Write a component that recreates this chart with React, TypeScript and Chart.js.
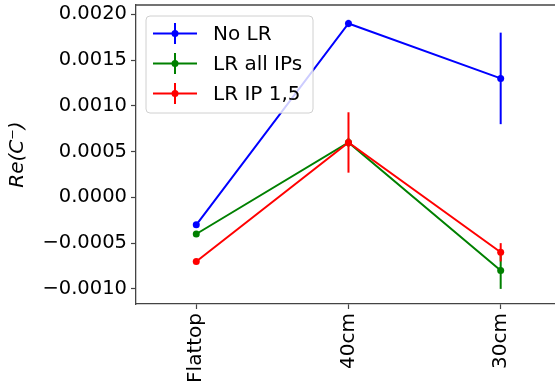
import React, { useEffect, useRef } from "react";
import { Chart, registerables } from "chart.js";

Chart.register(...registerables);

const categories = ["Flattop", "40cm", "30cm"];
const seriesNames = ["No LR", "LR all IPs", "LR IP 1,5"];
const seriesColors = ["#0000ff", "#008000", "#ff0000"];
const noLR = [-0.0003, 0.0019, 0.0013];
const noLRErr = [0.00001, 0.00004, 0.0005];
const lrAll = [-0.0004, 0.0006, -0.0008];
const lrAllErr = [0.00001, 0.00005, 0.0002];
const lrIP15 = [-0.0007, 0.0006, -0.0006];
const lrIP15Err = [0.00001, 0.00033, 0.0001];
const yTicks = [-0.001, -0.0005, 0, 0.0005, 0.001, 0.0015, 0.002];

const FONT = "DejaVu Sans";
const CW = 561;
const CH = 387;

export default function App() {
  const ref = useRef<HTMLCanvasElement | null>(null);

  useEffect(() => {
    const canvas = ref.current;
    if (!canvas) return;
    const values = [noLR, lrAll, lrIP15];
    const errs = [noLRErr, lrAllErr, lrIP15Err];

    const errorBars = {
      id: "errorBars",
      afterDatasetDraw(chart: any, args: any) {
        const i = args.index;
        const ctx = chart.ctx;
        const xs = chart.scales.x;
        const ys = chart.scales.y;
        ctx.save();
        ctx.strokeStyle = seriesColors[i];
        ctx.lineWidth = 2;
        values[i].forEach((v: number, k: number) => {
          const x = xs.getPixelForValue(k);
          ctx.beginPath();
          ctx.moveTo(x, ys.getPixelForValue(v - errs[i][k]));
          ctx.lineTo(x, ys.getPixelForValue(v + errs[i][k]));
          ctx.stroke();
        });
        ctx.restore();
      },
    };

    const frame = {
      id: "frame",
      afterDraw(chart: any) {
        const ctx = chart.ctx;
        const a = chart.chartArea;
        ctx.save();
        ctx.strokeStyle = "#444";
        ctx.lineWidth = 1.3;
        ctx.beginPath();
        ctx.moveTo(a.left, a.top);
        ctx.lineTo(a.right, a.top);
        ctx.stroke();

        // legend
        const lx = 146, ly = 16, lw = 167, lh = 97, r = 4;
        ctx.beginPath();
        ctx.moveTo(lx + r, ly);
        ctx.arcTo(lx + lw, ly, lx + lw, ly + lh, r);
        ctx.arcTo(lx + lw, ly + lh, lx, ly + lh, r);
        ctx.arcTo(lx, ly + lh, lx, ly, r);
        ctx.arcTo(lx, ly, lx + lw, ly, r);
        ctx.closePath();
        ctx.fillStyle = "rgba(255,255,255,0.8)";
        ctx.fill();
        ctx.strokeStyle = "#d0d0d0";
        ctx.lineWidth = 1;
        ctx.stroke();
        seriesNames.forEach((name, i) => {
          const y = 33.5 + i * 30;
          ctx.strokeStyle = seriesColors[i];
          ctx.fillStyle = seriesColors[i];
          ctx.lineWidth = 2;
          ctx.beginPath();
          ctx.moveTo(153, y);
          ctx.lineTo(197, y);
          ctx.moveTo(175, y - 10.5);
          ctx.lineTo(175, y + 10.5);
          ctx.stroke();
          ctx.beginPath();
          ctx.arc(175, y, 3.5, 0, Math.PI * 2);
          ctx.fill();
          ctx.fillStyle = "#000";
          ctx.font = `20px "${FONT}"`;
          ctx.textBaseline = "middle";
          ctx.textAlign = "left";
          ctx.fillText(name, 213, y + 1);
        });
        ctx.restore();
      },
    };

    const datasets = values.map((vals, i) => ({
      label: seriesNames[i],
      data: vals.map((v, k) => ({ x: k, y: v })),
      borderColor: seriesColors[i],
      backgroundColor: seriesColors[i],
      borderWidth: 2,
      pointRadius: 3.5,
      pointBorderWidth: 0,
      pointBackgroundColor: seriesColors[i],
      tension: 0,
      order: 3 - i,
    }));

    const chart = new Chart(canvas, {
      type: "line",
      data: { datasets },
      options: {
        animation: false,
        responsive: false,
        maintainAspectRatio: false,
        layout: { padding: { top: 5, right: 0, left: 0, bottom: 0 } },
        plugins: { legend: { display: false }, tooltip: { enabled: false } },
        scales: {
          x: {
            type: "linear",
            min: -0.396,
            max: 2.37,
            afterBuildTicks: (s: any) => {
              s.ticks = categories.map((_, k) => ({ value: k }));
            },
            afterFit: (s: any) => {
              s.height = 83;
              s.paddingLeft = 0;
              s.paddingRight = 0;
            },
            ticks: {
              callback: (v: any) => categories[v as number] ?? "",
              minRotation: 90,
              maxRotation: 90,
              padding: 4,
              color: "#000",
              font: { family: FONT, size: 20 },
              autoSkip: false,
            },
            grid: {
              drawOnChartArea: false,
              drawTicks: true,
              tickLength: 5,
              tickColor: "#444",
              tickWidth: 1.2,
            },
            border: { display: true, color: "#444", width: 1.3 },
          },
          y: {
            type: "linear",
            min: -0.001165,
            max: 0.002102,
            afterBuildTicks: (s: any) => {
              s.ticks = yTicks.map((v) => ({ value: v }));
            },
            afterFit: (s: any) => {
              s.width = 136;
              s.paddingTop = 0;
              s.paddingBottom = 0;
            },
            ticks: {
              callback: (v: any) => (v as number).toFixed(4).replace("-", "\u2212"),
              padding: 4,
              color: "#000",
              font: { family: FONT, size: 19.5 },
              autoSkip: false,
            },
            grid: {
              drawOnChartArea: false,
              drawTicks: true,
              tickLength: 5,
              tickColor: "#444",
              tickWidth: 1.2,
            },
            border: { display: true, color: "#444", width: 1.3 },
            title: {
              display: true,
              text: "Re(C\u207B)",
              color: "#000",
              font: { family: FONT, size: 20, style: "italic" },
              padding: { top: 6, bottom: 0 },
            },
          },
        },
      },
      plugins: [errorBars, frame],
    } as any);
    return () => chart.destroy();
  }, []);

  return (
    <div style={{ position: "fixed", left: 0, top: 0, width: 555, height: 385, overflow: "hidden", background: "#fff" }}>
      <canvas ref={ref} width={CW} height={CH} style={{ width: CW, height: CH, display: "block" }} />
    </div>
  );
}
